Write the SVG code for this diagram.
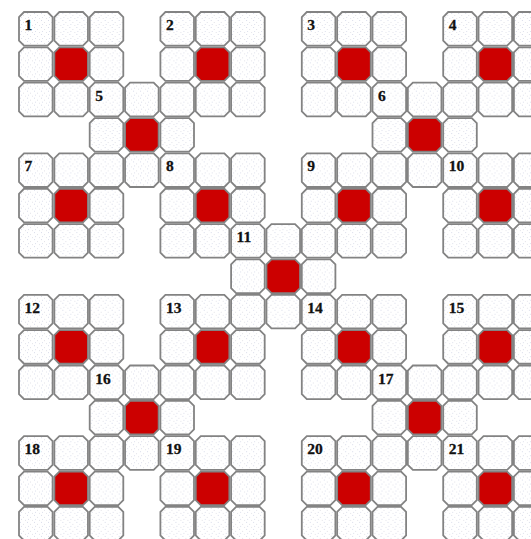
<svg xmlns="http://www.w3.org/2000/svg" xmlns:xlink="http://www.w3.org/1999/xlink" width="531" height="539" viewBox="0 0 531 539">
<style>
.c{fill:url(#dots);stroke:#838383;stroke-width:1.8}
.r{fill:#cc0000;stroke:#838383;stroke-width:1.8}
.lbl{font-family:"Liberation Serif","Times New Roman",serif;font-weight:bold;font-size:15.5px;fill:#111;stroke:#111;stroke-width:0.3}
</style>
<defs>
<pattern id="dots" width="7" height="7" patternUnits="userSpaceOnUse">
<rect width="7" height="7" fill="#ffffff"/>
<rect x="1" y="1" width="1" height="1" fill="#d9dcea"/>
<rect x="4" y="3" width="1" height="1" fill="#e2e2e8"/>
<rect x="2" y="5" width="1" height="1" fill="#dde0ec"/>
<rect x="6" y="6" width="1" height="1" fill="#e4e4ea"/>
</pattern>
<path id="cell" class="c" d="M5,0H28.6L33.6,5V28.6L28.6,33.6H5L0,28.6V5Z"/>
<path id="red" class="r" d="M5,0H28.6L33.6,5V28.6L28.6,33.6H5L0,28.6V5Z"/>
</defs>
<rect width="531" height="539" fill="#ffffff"/>

<g id="b1" transform="translate(19,12)">
<use href="#cell" x="0" y="0"/><use href="#cell" x="35.35" y="0"/><use href="#cell" x="70.7" y="0"/>
<use href="#cell" x="0" y="35.35"/><use href="#red" x="35.35" y="35.35"/><use href="#cell" x="70.7" y="35.35"/>
<use href="#cell" x="0" y="70.7"/><use href="#cell" x="35.35" y="70.7"/>
<text class="lbl" x="5.5" y="18">1</text>
</g>
<g id="b2" transform="translate(160.4,12)">
<use href="#cell" x="0" y="0"/><use href="#cell" x="35.35" y="0"/><use href="#cell" x="70.7" y="0"/>
<use href="#cell" x="0" y="35.35"/><use href="#red" x="35.35" y="35.35"/><use href="#cell" x="70.7" y="35.35"/>
<use href="#cell" x="0" y="70.7"/><use href="#cell" x="35.35" y="70.7"/><use href="#cell" x="70.7" y="70.7"/>
<text class="lbl" x="5.5" y="18">2</text>
</g>
<g id="b3" transform="translate(301.8,12)">
<use href="#cell" x="0" y="0"/><use href="#cell" x="35.35" y="0"/><use href="#cell" x="70.7" y="0"/>
<use href="#cell" x="0" y="35.35"/><use href="#red" x="35.35" y="35.35"/><use href="#cell" x="70.7" y="35.35"/>
<use href="#cell" x="0" y="70.7"/><use href="#cell" x="35.35" y="70.7"/>
<text class="lbl" x="5.5" y="18">3</text>
</g>
<g id="b4" transform="translate(443.2,12)">
<use href="#cell" x="0" y="0"/><use href="#cell" x="35.35" y="0"/><use href="#cell" x="70.7" y="0"/>
<use href="#cell" x="0" y="35.35"/><use href="#red" x="35.35" y="35.35"/><use href="#cell" x="70.7" y="35.35"/>
<use href="#cell" x="0" y="70.7"/><use href="#cell" x="35.35" y="70.7"/><use href="#cell" x="70.7" y="70.7"/>
<text class="lbl" x="5.5" y="18">4</text>
</g>
<g id="b5" transform="translate(89.7,82.7)">
<use href="#cell" x="0" y="0"/><use href="#cell" x="35.35" y="0"/>
<use href="#cell" x="0" y="35.35"/><use href="#red" x="35.35" y="35.35"/><use href="#cell" x="70.7" y="35.35"/>
<use href="#cell" x="0" y="70.7"/><use href="#cell" x="35.35" y="70.7"/>
<text class="lbl" x="5.5" y="18">5</text>
</g>
<g id="b6" transform="translate(372.5,82.7)">
<use href="#cell" x="0" y="0"/><use href="#cell" x="35.35" y="0"/>
<use href="#cell" x="0" y="35.35"/><use href="#red" x="35.35" y="35.35"/><use href="#cell" x="70.7" y="35.35"/>
<use href="#cell" x="0" y="70.7"/><use href="#cell" x="35.35" y="70.7"/>
<text class="lbl" x="5.5" y="18">6</text>
</g>
<g id="b7" transform="translate(19,153.4)">
<use href="#cell" x="0" y="0"/><use href="#cell" x="35.35" y="0"/>
<use href="#cell" x="0" y="35.35"/><use href="#red" x="35.35" y="35.35"/><use href="#cell" x="70.7" y="35.35"/>
<use href="#cell" x="0" y="70.7"/><use href="#cell" x="35.35" y="70.7"/><use href="#cell" x="70.7" y="70.7"/>
<text class="lbl" x="5.5" y="18">7</text>
</g>
<g id="b8" transform="translate(160.4,153.4)">
<use href="#cell" x="0" y="0"/><use href="#cell" x="35.35" y="0"/><use href="#cell" x="70.7" y="0"/>
<use href="#cell" x="0" y="35.35"/><use href="#red" x="35.35" y="35.35"/><use href="#cell" x="70.7" y="35.35"/>
<use href="#cell" x="0" y="70.7"/><use href="#cell" x="35.35" y="70.7"/>
<text class="lbl" x="5.5" y="18">8</text>
</g>
<g id="b9" transform="translate(301.8,153.4)">
<use href="#cell" x="0" y="0"/><use href="#cell" x="35.35" y="0"/>
<use href="#cell" x="0" y="35.35"/><use href="#red" x="35.35" y="35.35"/><use href="#cell" x="70.7" y="35.35"/>
<use href="#cell" x="0" y="70.7"/><use href="#cell" x="35.35" y="70.7"/><use href="#cell" x="70.7" y="70.7"/>
<text class="lbl" x="5.5" y="18">9</text>
</g>
<g id="b10" transform="translate(443.2,153.4)">
<use href="#cell" x="0" y="0"/><use href="#cell" x="35.35" y="0"/><use href="#cell" x="70.7" y="0"/>
<use href="#cell" x="0" y="35.35"/><use href="#red" x="35.35" y="35.35"/><use href="#cell" x="70.7" y="35.35"/>
<use href="#cell" x="0" y="70.7"/><use href="#cell" x="35.35" y="70.7"/><use href="#cell" x="70.7" y="70.7"/>
<text class="lbl" x="5.5" y="18">10</text>
</g>
<g id="b11" transform="translate(231.1,224.1)">
<use href="#cell" x="0" y="0"/><use href="#cell" x="35.35" y="0"/>
<use href="#cell" x="0" y="35.35"/><use href="#red" x="35.35" y="35.35"/><use href="#cell" x="70.7" y="35.35"/>
<use href="#cell" x="0" y="70.7"/><use href="#cell" x="35.35" y="70.7"/>
<text class="lbl" x="5.5" y="18">11</text>
</g>
<g id="b12" transform="translate(19,294.8)">
<use href="#cell" x="0" y="0"/><use href="#cell" x="35.35" y="0"/><use href="#cell" x="70.7" y="0"/>
<use href="#cell" x="0" y="35.35"/><use href="#red" x="35.35" y="35.35"/><use href="#cell" x="70.7" y="35.35"/>
<use href="#cell" x="0" y="70.7"/><use href="#cell" x="35.35" y="70.7"/>
<text class="lbl" x="5.5" y="18">12</text>
</g>
<g id="b13" transform="translate(160.4,294.8)">
<use href="#cell" x="0" y="0"/><use href="#cell" x="35.35" y="0"/>
<use href="#cell" x="0" y="35.35"/><use href="#red" x="35.35" y="35.35"/><use href="#cell" x="70.7" y="35.35"/>
<use href="#cell" x="0" y="70.7"/><use href="#cell" x="35.35" y="70.7"/><use href="#cell" x="70.7" y="70.7"/>
<text class="lbl" x="5.5" y="18">13</text>
</g>
<g id="b14" transform="translate(301.8,294.8)">
<use href="#cell" x="0" y="0"/><use href="#cell" x="35.35" y="0"/><use href="#cell" x="70.7" y="0"/>
<use href="#cell" x="0" y="35.35"/><use href="#red" x="35.35" y="35.35"/><use href="#cell" x="70.7" y="35.35"/>
<use href="#cell" x="0" y="70.7"/><use href="#cell" x="35.35" y="70.7"/>
<text class="lbl" x="5.5" y="18">14</text>
</g>
<g id="b15" transform="translate(443.2,294.8)">
<use href="#cell" x="0" y="0"/><use href="#cell" x="35.35" y="0"/><use href="#cell" x="70.7" y="0"/>
<use href="#cell" x="0" y="35.35"/><use href="#red" x="35.35" y="35.35"/><use href="#cell" x="70.7" y="35.35"/>
<use href="#cell" x="0" y="70.7"/><use href="#cell" x="35.35" y="70.7"/><use href="#cell" x="70.7" y="70.7"/>
<text class="lbl" x="5.5" y="18">15</text>
</g>
<g id="b16" transform="translate(89.7,365.5)">
<use href="#cell" x="0" y="0"/><use href="#cell" x="35.35" y="0"/>
<use href="#cell" x="0" y="35.35"/><use href="#red" x="35.35" y="35.35"/><use href="#cell" x="70.7" y="35.35"/>
<use href="#cell" x="0" y="70.7"/><use href="#cell" x="35.35" y="70.7"/>
<text class="lbl" x="5.5" y="18">16</text>
</g>
<g id="b17" transform="translate(372.5,365.5)">
<use href="#cell" x="0" y="0"/><use href="#cell" x="35.35" y="0"/>
<use href="#cell" x="0" y="35.35"/><use href="#red" x="35.35" y="35.35"/><use href="#cell" x="70.7" y="35.35"/>
<use href="#cell" x="0" y="70.7"/><use href="#cell" x="35.35" y="70.7"/>
<text class="lbl" x="5.5" y="18">17</text>
</g>
<g id="b18" transform="translate(19,436.2)">
<use href="#cell" x="0" y="0"/><use href="#cell" x="35.35" y="0"/>
<use href="#cell" x="0" y="35.35"/><use href="#red" x="35.35" y="35.35"/><use href="#cell" x="70.7" y="35.35"/>
<use href="#cell" x="0" y="70.7"/><use href="#cell" x="35.35" y="70.7"/><use href="#cell" x="70.7" y="70.7"/>
<text class="lbl" x="5.5" y="18">18</text>
</g>
<g id="b19" transform="translate(160.4,436.2)">
<use href="#cell" x="0" y="0"/><use href="#cell" x="35.35" y="0"/><use href="#cell" x="70.7" y="0"/>
<use href="#cell" x="0" y="35.35"/><use href="#red" x="35.35" y="35.35"/><use href="#cell" x="70.7" y="35.35"/>
<use href="#cell" x="0" y="70.7"/><use href="#cell" x="35.35" y="70.7"/><use href="#cell" x="70.7" y="70.7"/>
<text class="lbl" x="5.5" y="18">19</text>
</g>
<g id="b20" transform="translate(301.8,436.2)">
<use href="#cell" x="0" y="0"/><use href="#cell" x="35.35" y="0"/>
<use href="#cell" x="0" y="35.35"/><use href="#red" x="35.35" y="35.35"/><use href="#cell" x="70.7" y="35.35"/>
<use href="#cell" x="0" y="70.7"/><use href="#cell" x="35.35" y="70.7"/><use href="#cell" x="70.7" y="70.7"/>
<text class="lbl" x="5.5" y="18">20</text>
</g>
<g id="b21" transform="translate(443.2,436.2)">
<use href="#cell" x="0" y="0"/><use href="#cell" x="35.35" y="0"/><use href="#cell" x="70.7" y="0"/>
<use href="#cell" x="0" y="35.35"/><use href="#red" x="35.35" y="35.35"/><use href="#cell" x="70.7" y="35.35"/>
<use href="#cell" x="0" y="70.7"/><use href="#cell" x="35.35" y="70.7"/><use href="#cell" x="70.7" y="70.7"/>
<text class="lbl" x="5.5" y="18">21</text>
</g>
</svg>
